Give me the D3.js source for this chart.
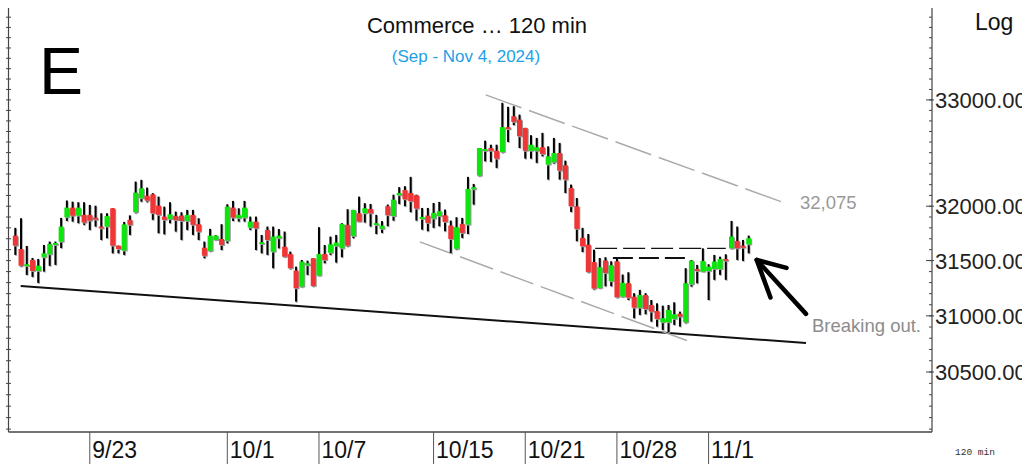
<!DOCTYPE html>
<html><head><meta charset="utf-8">
<script src="https://cdn.jsdelivr.net/npm/d3@7"></script>
<style>html,body{margin:0;padding:0;background:#fff;overflow:hidden}</style>
</head><body><svg id="c" width="1022" height="464"></svg>
<script>
const opens=[31729,31606,31452,31506,31406,31531,31558,31643,31673,31898,31987,31913,31920,31920,31895,31812,31812,31981,31637,31592,31874,31945,32074,32098,32111,32005,31904,31880,31910,31913,31864,31920,31834,31618,31588,31689,31698,31683,31987,31889,31895,31803,31858,31652,31781,31582,31705,31627,31561,31409,31264,31458,31522,31364,31561,31572,31634,31612,31828,31726,31935,31935,31975,31834,31791,32000,31908,32102,32151,32123,32102,31883,31913,31886,31908,31917,31821,31609,31837,31830,32158,32285,32518,32544,32518,32506,32741,32845,32813,32734,32518,32518,32551,32388,32410,32497,32382,32170,32000,31708,31646,31488,31252,31500,31313,31494,31174,31295,31173,31074,31188,31098,31044,30943,30943,30973,31020,30943,31286,31424,31400,31406,31424,31424,31515,31612,31680,31637,31649];
const highs=[31800,31889,31634,31524,31515,31643,31674,31674,31892,32053,32042,32037,32037,32012,32005,31935,31935,31981,31637,31855,31915,32229,32245,32173,32121,32089,31996,32037,31950,31944,31966,31966,31889,31674,31791,31732,31834,32018,32049,31981,32049,31904,31904,31735,31812,31812,31789,31766,31582,31445,31506,31500,31522,31806,31643,31720,31735,31843,31972,31966,32089,32028,32021,31920,31862,32015,32107,32177,32186,32273,32107,31984,31984,32030,32040,31969,31867,31898,31892,32273,32207,32544,32613,32575,32575,32972,32934,32940,32860,32734,32665,32639,32687,32560,32639,32592,32425,32201,32076,31800,31744,31600,31524,31531,31494,31518,31373,31394,31204,31234,31204,31143,31113,31092,31098,31122,31038,31431,31506,31461,31612,31467,31552,31536,31558,31864,31812,31689,31729];
const lows=[31552,31445,31370,31352,31297,31400,31452,31461,31615,31864,31858,31843,31828,31781,31812,31689,31705,31567,31567,31552,31735,31935,32042,32037,31874,31751,31741,31843,31766,31689,31781,31735,31689,31522,31582,31686,31597,31659,31864,31858,31858,31781,31597,31567,31552,31431,31612,31531,31422,31128,31258,31370,31264,31361,31476,31552,31482,31531,31627,31705,31858,31849,31812,31744,31754,31815,31867,32021,32000,31945,31867,31784,31769,31800,31815,31769,31570,31600,31708,31744,32015,32279,32419,32413,32357,32497,32601,32760,32544,32444,32444,32404,32466,32248,32397,32248,32123,31947,31678,31579,31388,31237,31246,31267,31267,31161,31168,31143,30979,31009,31015,30949,30904,30874,30854,30919,30904,30934,31264,31294,31400,31143,31325,31370,31325,31606,31506,31497,31567];
const closes=[31637,31454,31467,31406,31454,31567,31652,31661,31812,31987,31913,31987,31849,31867,31876,31800,31910,31637,31606,31832,31828,32126,32167,32052,31935,31920,31874,31926,31871,31864,31920,31828,31766,31545,31729,31729,31643,31996,31895,31920,31987,31858,31797,31668,31689,31720,31729,31536,31431,31249,31491,31476,31270,31561,31506,31649,31665,31837,31637,31966,31858,31981,31935,31843,31821,31917,32061,32123,32064,32046,31978,31901,31846,31938,31954,31855,31698,31806,31754,32161,32177,32544,32534,32518,32444,32741,32722,32791,32655,32518,32575,32551,32488,32466,32497,32332,32248,32000,31791,31631,31397,31246,31440,31388,31458,31168,31297,31164,31074,31188,31062,31038,30973,30979,31053,31015,30993,31295,31500,31406,31497,31445,31491,31515,31506,31720,31612,31618,31705];

const dateLabels=["9/23","10/1","10/7","10/15","10/21","10/28","11/1"];
const dateBars=[13,37,53,73,89,105,121];
const priceLabels=[30500,31000,31500,32000,33000];
const minorTickStep=100;

// annotation lines in [bar index, price]
const supportLine=[[0.94,31270],[138,30758]];
const upperChannel=[[82.1,33048],[134.3,32030]];
const lowerChannel=[[70.6,31671],[117.2,30779]];
const necklineUpper=[[101.2,31611],[124,31611]];
const necklineLower=[[104.3,31524],[117.4,31524]];
const arrowShaft=[[138,31018],[129.4,31506]];
const arrowHead=[[134.6,31434],[129.4,31506],[131.8,31165]];

const W=1022,H=464;
const L=8.5,R=932,T=8,B=432;
const svg=d3.select("#c");
const x=d3.scaleLinear().domain([0,128]).range([15.3,748.7]);
const y=d3.scaleLog().domain([29975,33890]).range([B,T]);
const font="'Liberation Sans', Arial, sans-serif";

// frame
const g=svg.append("g");
g.append("line").attr("x1",L).attr("x2",L).attr("y1",T).attr("y2",B).attr("stroke","#444").attr("stroke-width",1.2);
g.append("line").attr("x1",R).attr("x2",R).attr("y1",T).attr("y2",B).attr("stroke","#444").attr("stroke-width",1.2);
g.append("line").attr("x1",L).attr("x2",R).attr("y1",B).attr("y2",B).attr("stroke","#444").attr("stroke-width",1.5);

// minor ticks
const minor=d3.range(30000,33900,minorTickStep).filter(v=>y(v)>=T&&y(v)<=B);
g.selectAll(".lt").data(minor).join("line").attr("x1",6).attr("x2",11).attr("y1",d=>y(d)).attr("y2",d=>y(d)).attr("stroke","#444").attr("stroke-width",1);
g.selectAll(".rt").data(minor).join("line").attr("x1",R-3).attr("x2",R).attr("y1",d=>y(d)).attr("y2",d=>y(d)).attr("stroke","#444").attr("stroke-width",1);
g.selectAll(".rtm").data(priceLabels).join("line").attr("x1",R-6).attr("x2",R+2).attr("y1",d=>y(d)).attr("y2",d=>y(d)).attr("stroke","#444").attr("stroke-width",1);

// right labels
g.selectAll(".pl").data(priceLabels).join("text").attr("x",935).attr("y",d=>y(d)+8)
 .attr("font-family",font).attr("font-size",22).attr("fill","#222").text(d=>d.toFixed(2));

// date separators and labels
g.selectAll(".ds").data(dateBars).join("line").attr("x1",d=>x(d)).attr("x2",d=>x(d)).attr("y1",B).attr("y2",H)
 .attr("stroke","#555").attr("stroke-width",1);
g.selectAll(".dl").data(dateLabels).join("text").attr("x",(d,i)=>x(dateBars[i])+2.5).attr("y",458)
 .attr("font-family",font).attr("font-size",23).attr("fill","#111").text(d=>d);

// annotation lines
const ln=d3.line().x(d=>x(d[0])).y(d=>y(d[1]));
g.append("path").attr("d",ln(supportLine)).attr("stroke","#111").attr("stroke-width",2).attr("fill","none");
g.append("path").attr("d",ln(upperChannel)).attr("stroke","#aaa").attr("stroke-width",1.5).attr("stroke-dasharray","38,8").attr("fill","none");
g.append("path").attr("d",ln(lowerChannel)).attr("stroke","#aaa").attr("stroke-width",1.5).attr("stroke-dasharray","35,8").attr("fill","none");
g.append("path").attr("d",ln(necklineUpper)).attr("stroke","#111").attr("stroke-width",1.2).attr("stroke-dasharray","22,6").attr("fill","none");
g.append("path").attr("d",ln(necklineLower)).attr("stroke","#111").attr("stroke-width",2).attr("stroke-dasharray","20,6").attr("fill","none");

// candles
const data=opens.map((o,i)=>({i,o,h:highs[i],l:lows[i],c:closes[i]}));
const bw=5;
const cg=svg.append("g");
cg.selectAll(".ws").data(data).join("rect").attr("x",d=>x(d.i)-0.2).attr("width",2).attr("y",d=>y(d.h)+1).attr("height",d=>y(d.l)-y(d.h)).attr("fill","#aaa");
cg.selectAll(".w").data(data).join("rect").attr("x",d=>x(d.i)-1).attr("width",2).attr("y",d=>y(d.h)).attr("height",d=>y(d.l)-y(d.h)).attr("fill","#000");
cg.selectAll(".bs").data(data).join("rect").attr("x",d=>x(d.i)-bw/2+1).attr("width",bw).attr("y",d=>y(Math.max(d.o,d.c))+1).attr("height",d=>Math.max(1.8,Math.abs(y(d.o)-y(d.c)))).attr("fill","#999");
cg.selectAll(".b").data(data).join("rect").attr("x",d=>x(d.i)-bw/2).attr("width",bw).attr("y",d=>y(Math.max(d.o,d.c))).attr("height",d=>Math.max(1.8,Math.abs(y(d.o)-y(d.c)))).attr("fill",d=>d.c>=d.o?"#0ce60c":"#ef3535");

// arrow
g.append("path").attr("d",ln(arrowShaft)).attr("stroke","#000").attr("stroke-width",4.5).attr("stroke-linecap","round").attr("fill","none");
g.append("path").attr("d",ln(arrowHead)).attr("stroke","#000").attr("stroke-width",4.5).attr("stroke-linecap","round").attr("stroke-linejoin","round").attr("fill","none");

// texts
const t=svg.append("g").attr("font-family",font);
t.append("text").attr("x",477).attr("y",33).attr("text-anchor","middle").attr("font-size",22).attr("fill","#111").text("Commerce … 120 min");
t.append("text").attr("x",466).attr("y",62).attr("text-anchor","middle").attr("font-size",17).attr("fill","#1e9fe6").text("(Sep - Nov 4, 2024)");
t.append("text").attr("x",39).attr("y",94).attr("font-size",66).attr("fill","#000").text("E");
t.append("text").attr("x",975).attr("y",30).attr("font-size",23).attr("fill","#111").text("Log");
t.append("text").attr("x",800).attr("y",209).attr("font-size",18.5).attr("fill","#999").text("32,075");
t.append("text").attr("x",812).attr("y",332).attr("font-size",18.5).attr("fill","#8c8c8c").text("Breaking out.");
t.append("text").attr("x",955).attr("y",455).attr("font-family","'Liberation Mono', 'DejaVu Sans Mono', monospace").attr("font-size",9.5).attr("fill","#333").text("120 min");
</script></body></html>
